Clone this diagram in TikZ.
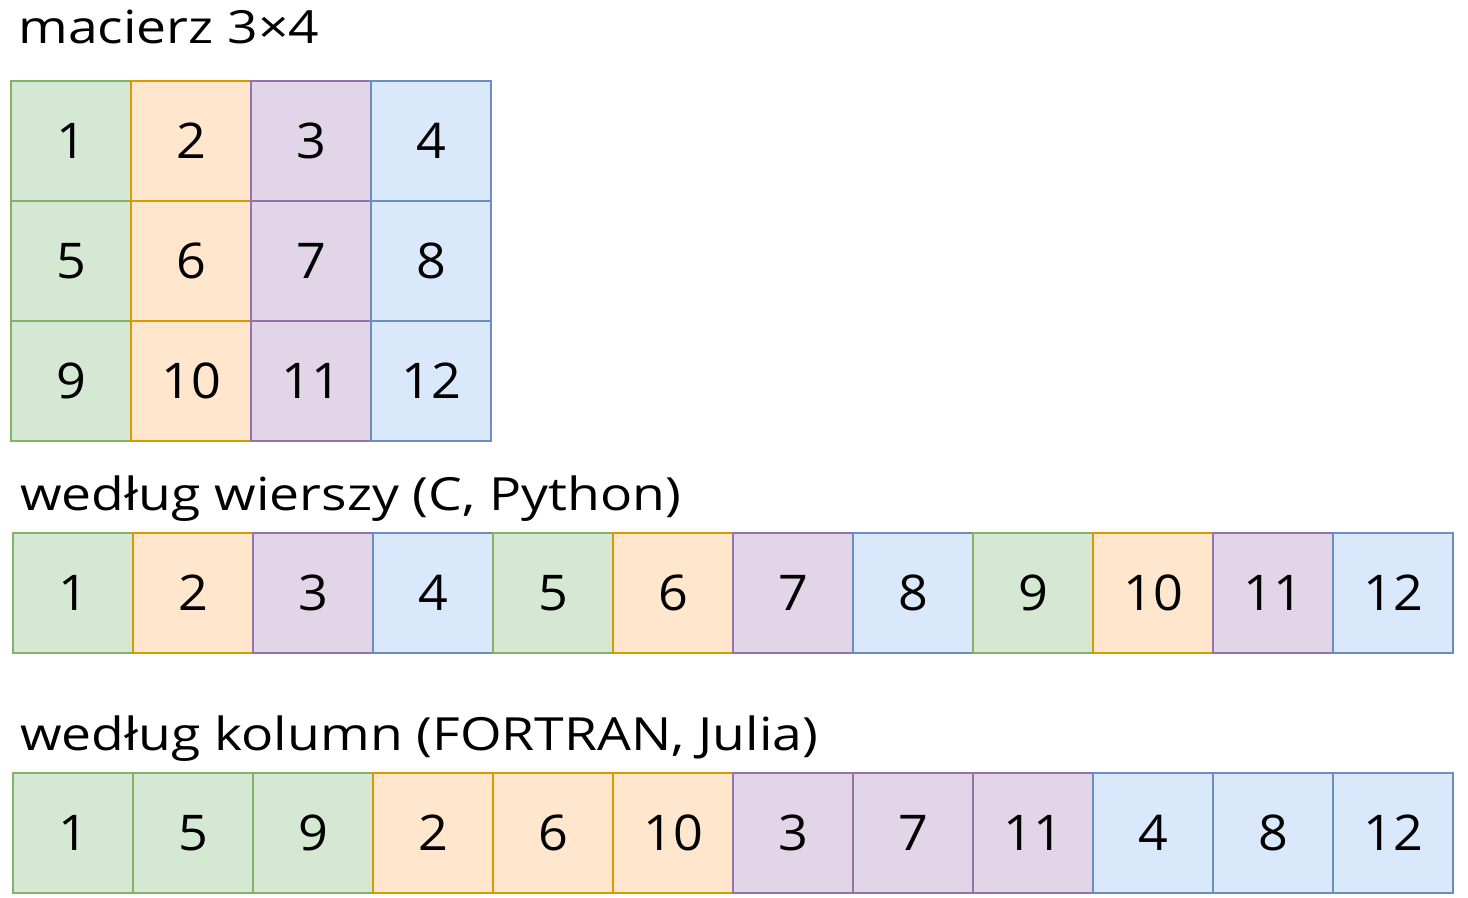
\documentclass[tikz,border=0pt]{standalone}
\usepackage{fontspec}
\setmainfont{Open Sans}
\newfontfamily\titlefont[FakeStretch=1.17]{Open Sans}
\newfontfamily\cellfont[FakeStretch=1.06]{Open Sans}
\definecolor{grfill}{HTML}{D5E8D4}\definecolor{grline}{HTML}{82B366}
\definecolor{orfill}{HTML}{FFE6CC}\definecolor{orline}{HTML}{D79B00}
\definecolor{pufill}{HTML}{E1D5E7}\definecolor{puline}{HTML}{9673A6}
\definecolor{blfill}{HTML}{DAE8FC}\definecolor{blline}{HTML}{6C8EBF}
\tikzset{
  cell/.style={minimum size=24mm,inner sep=0pt,line width=0.5mm,
    font=\cellfont\fontsize{28}{30}\selectfont},
  c0/.style={cell,fill=grfill,draw=grline},
  c1/.style={cell,fill=orfill,draw=orline},
  c2/.style={cell,fill=pufill,draw=puline},
  c3/.style={cell,fill=blfill,draw=blline},
  title/.style={anchor=base west,inner sep=0pt,font=\titlefont\fontsize{26}{28}\selectfont}
}
\begin{document}
\begin{tikzpicture}[x=0.2mm,y=-0.2mm]
\useasboundingbox (0,0) rectangle (1468,897);
% macierz
\node[title] (tm) at (18,43) {macierz 3×4};
\foreach \i in {0,1,2}
  \foreach \j in {0,1,2,3} {
    \pgfmathtruncatemacro{\n}{4*\i+\j+1}
    \node[c\j] (m\n) at (71+120*\j,141+120*\i) {\n};
  }
% wierszami
\node[title] (tw) at (20,510) {według wierszy (C, Python)};
\foreach \k in {0,...,11} {
    \pgfmathtruncatemacro{\n}{\k+1}
    \pgfmathtruncatemacro{\c}{mod(\k,4)}
    \node[c\c] (w\n) at (73+120*\k,593) {\n};
  }
% kolumnami
\node[title] (tk) at (20,750) {według kolumn (FORTRAN, Julia)};
\foreach \k in {0,...,11} {
    \pgfmathtruncatemacro{\c}{floor(\k/3)}
    \pgfmathtruncatemacro{\n}{4*mod(\k,3)+\c+1}
    \node[c\c] (k\n) at (73+120*\k,833) {\n};
  }
\end{tikzpicture}
\end{document}
